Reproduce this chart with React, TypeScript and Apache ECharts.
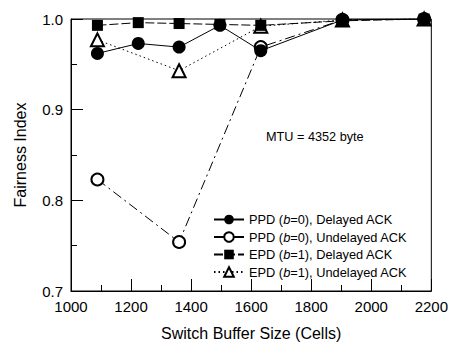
import React, { useEffect, useRef } from "react";
import * as echarts from "echarts";

const xAll = [1088, 1224, 1360, 1496, 1632, 1904, 2176];
const xSparse = [1088, 1360, 1632, 1904, 2176];
const ppdDelayed = [0.962, 0.973, 0.969, 0.993, 0.965, 0.999, 1.0];
const ppdUndelayed = [0.823, 0.754, 0.969, 0.999, 1.0];
const epdDelayed = [0.993, 0.996, 0.995, 0.994, 0.993, 0.998, 1.0];
const epdUndelayed = [0.977, 0.943, 0.992, 0.999, 1.0];
const seriesNames = [
  "PPD (b=0), Delayed ACK",
  "PPD (b=0), Undelayed ACK",
  "EPD (b=1), Delayed ACK",
  "EPD (b=1), Undelayed ACK",
];
const annotation = "MTU = 4352 byte";
const xTitle = "Switch Buffer Size (Cells)";
const yTitle = "Fairness Index";

const FONT = "Liberation Sans, Arial, sans-serif";

function pair(xs: number[], ys: number[]) {
  return xs.map((x, i) => [x, ys[i]]);
}

export default function App() {
  const ref = useRef<HTMLDivElement>(null);
  useEffect(() => {
    if (!ref.current) return;
    document.body.style.margin = "0";
    const chart = echarts.init(ref.current, null, { renderer: "svg" });
    const axisCommon = {
      axisLine: { show: true, lineStyle: { color: "#000", width: 1 } },
      axisTick: { show: true, inside: true, length: 12, lineStyle: { color: "#000" } },
      minorTick: { show: true, splitNumber: 2, length: 6, lineStyle: { color: "#000" } },
      splitLine: { show: false },
      minorSplitLine: { show: false },
      axisLabel: { color: "#000", fontSize: 15, fontFamily: FONT },
      nameTextStyle: { color: "#000", fontSize: 16, fontFamily: FONT },
    };
    chart.setOption({
      animation: false,
      backgroundColor: "#fff",
      grid: {
        left: 71,
        right: 18,
        top: 19,
        bottom: 56,
        show: true,
        borderColor: "#000",
        borderWidth: 1,
        backgroundColor: "transparent",
      },
      xAxis: {
        type: "value",
        min: 1000,
        max: 2200,
        interval: 200,
        name: xTitle,
        nameLocation: "middle",
        nameGap: 34,
        ...axisCommon,
        axisLabel: { ...axisCommon.axisLabel, margin: 8, formatter: (v: number) => String(v) },
      },
      yAxis: {
        type: "value",
        min: 0.7,
        max: 1.0,
        interval: 0.1,
        name: yTitle,
        nameLocation: "middle",
        nameGap: 43,
        ...axisCommon,
        axisLabel: {
          ...axisCommon.axisLabel,
          margin: 8,
          formatter: (v: number) => v.toFixed(1),
        },
      },
      legend: {
        orient: "vertical",
        left: 213,
        top: 213,
        padding: 0,
        itemWidth: 30,
        itemHeight: 12,
        itemGap: 4.5,
        textStyle: {
          color: "#000",
          fontSize: 12.8,
          fontFamily: FONT,
          rich: { i: { fontStyle: "italic", fontSize: 12.8, fontFamily: FONT } },
        },
        formatter: (name: string) => name.replace("(b=", "({i|b}="),
        data: seriesNames,
      },
      graphic: [
        {
          type: "text",
          left: 266,
          top: 130,
          style: {
            text: annotation,
            fill: "#000",
            font: `12.7px ${FONT}`,
          },
        },
      ],
      series: [
        {
          name: seriesNames[3],
          type: "line",
          data: pair(xSparse, epdUndelayed),
          symbol: "emptyTriangle",
          symbolSize: 13,
          itemStyle: { color: "#000", borderColor: "#000", borderWidth: 1 },
          lineStyle: { color: "#000", width: 1, type: [1.5, 3] },
          z: 2,
        },
        {
          name: seriesNames[2],
          type: "line",
          data: pair(xAll, epdDelayed),
          symbol: "rect",
          symbolSize: 11,
          itemStyle: { color: "#000" },
          lineStyle: { color: "#000", width: 1, type: [9, 3] },
          z: 3,
        },
        {
          name: seriesNames[1],
          type: "line",
          data: pair(xSparse, ppdUndelayed),
          symbol: "emptyCircle",
          symbolSize: 12,
          itemStyle: { color: "#000", borderColor: "#000", borderWidth: 1 },
          lineStyle: { color: "#000", width: 1, type: [10, 4, 2, 4] },
          z: 4,
        },
        {
          name: seriesNames[0],
          type: "line",
          data: pair(xAll, ppdDelayed),
          symbol: "circle",
          symbolSize: 13,
          itemStyle: { color: "#000" },
          lineStyle: { color: "#000", width: 1, type: "solid" },
          z: 5,
        },
      ],
    });
    return () => chart.dispose();
  }, []);
  return <div ref={ref} style={{ position: "absolute", left: 0, top: 0, width: 451, height: 347 }} />;
}
